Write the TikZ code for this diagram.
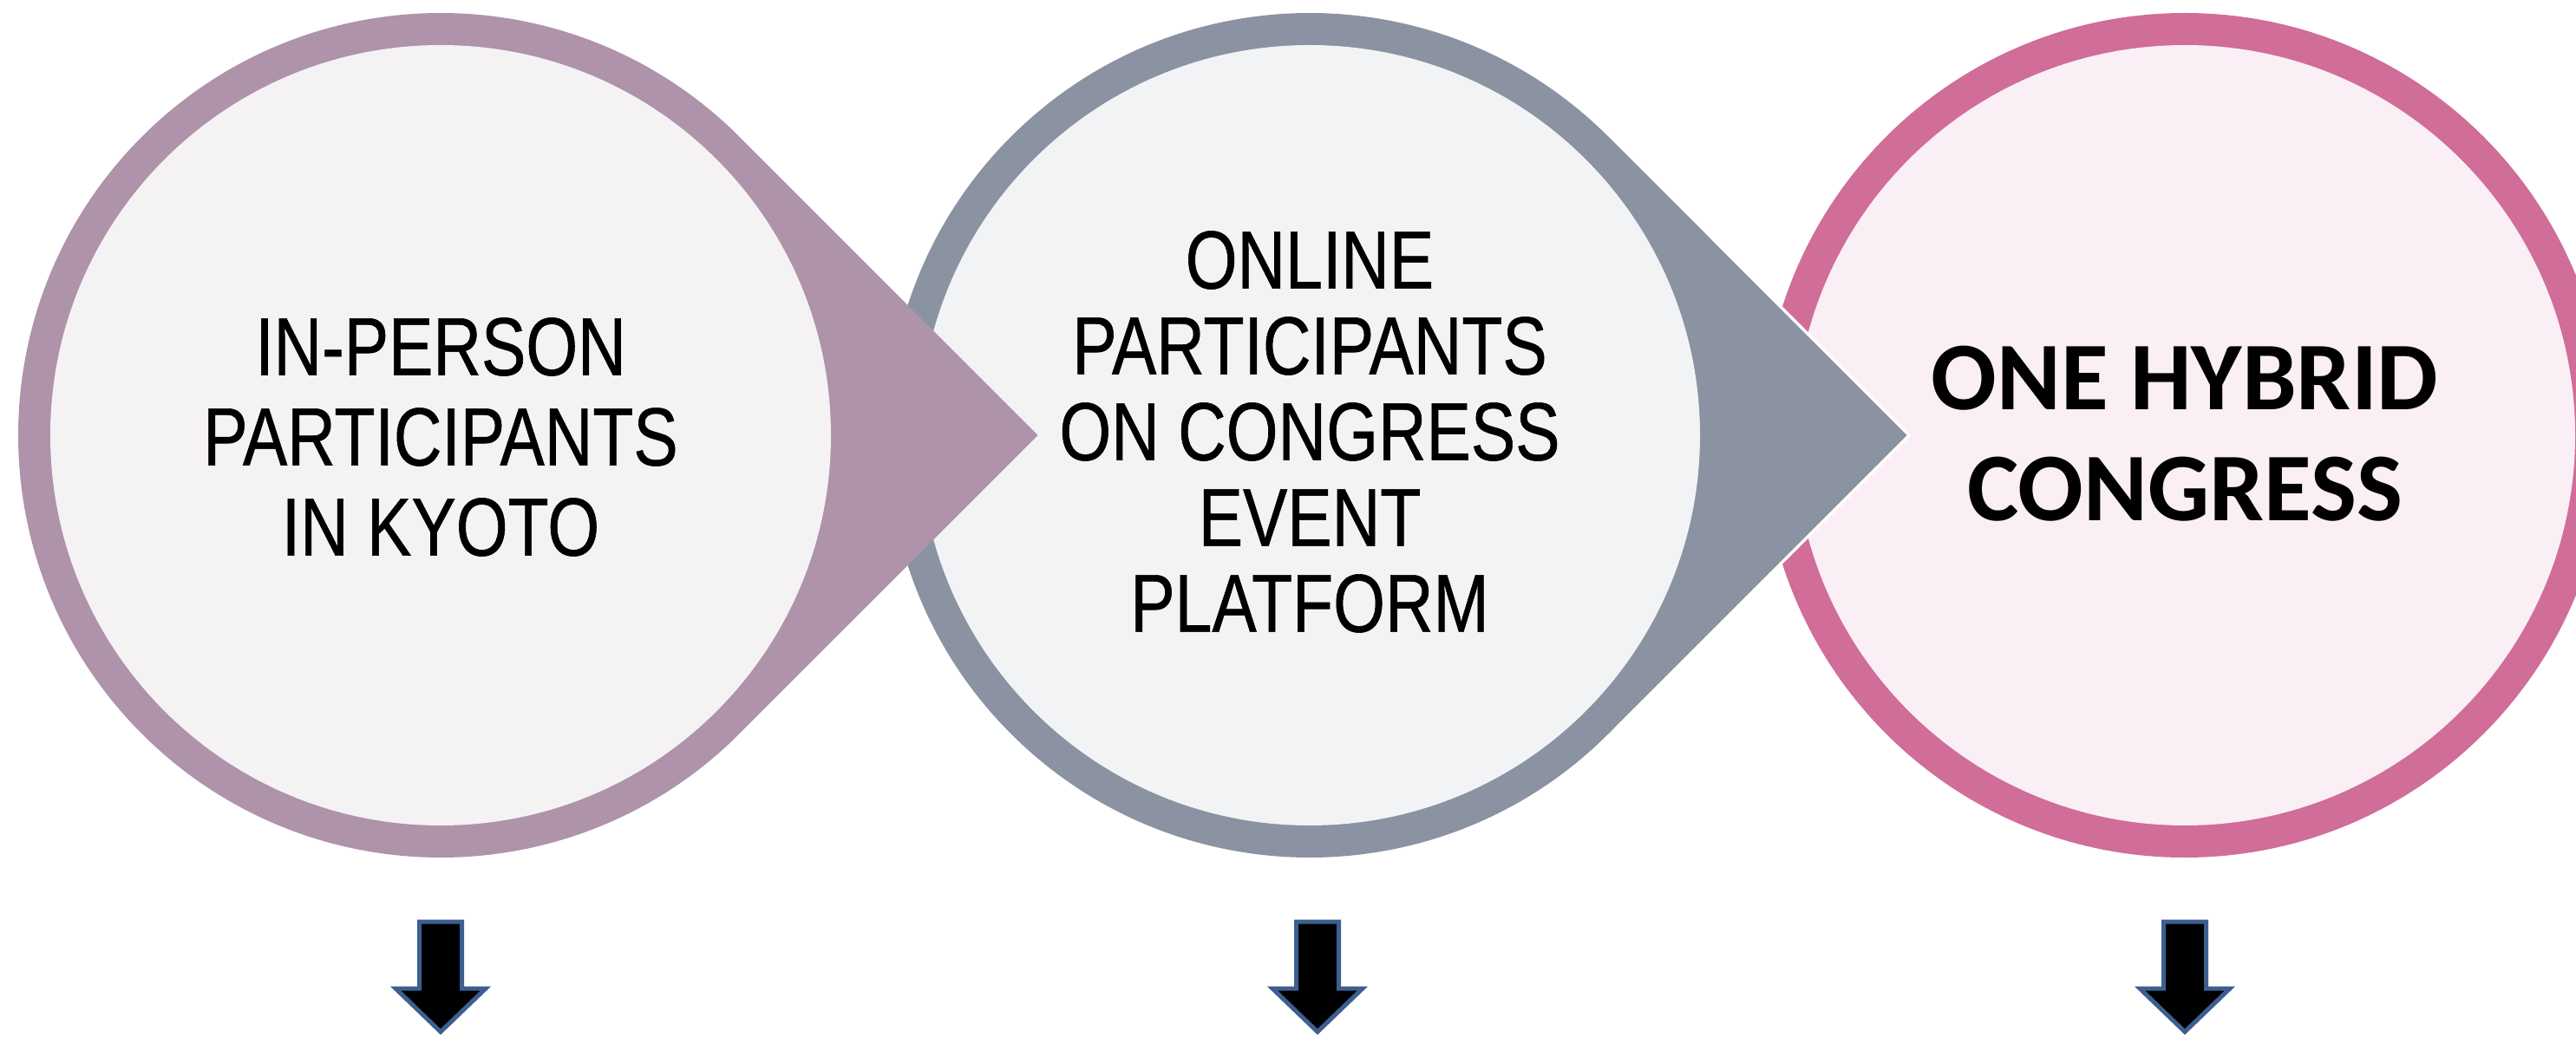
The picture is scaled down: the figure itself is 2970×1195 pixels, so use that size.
\documentclass[tikz,border=0pt]{standalone}
\usepackage{fontspec}
\usetikzlibrary{calc}
\newfontfamily\narrowfont[FakeStretch=0.81, FakeBold=0.6]{Liberation Sans}
\newfontfamily\hybridfont{Carlito}
\definecolor{purring}{HTML}{AE93AB}
\definecolor{purin}{HTML}{F5F2F4}
\definecolor{grayring}{HTML}{8B92A1}
\definecolor{grayin}{HTML}{F2F3F5}
\definecolor{pinkring}{HTML}{D06D98}
\definecolor{pinkin}{HTML}{FAEFF5}
\definecolor{arrowedge}{HTML}{3C5F8F}
\tikzset{
  narrowtext/.style={align=center, inner sep=0pt, font=\narrowfont\fontsize{95}{104}\selectfont},
  boldtext/.style={align=center, inner sep=0pt, font=\hybridfont\bfseries\fontsize{112}{128}\selectfont},
  downarrow/.pic={\draw[draw=arrowedge, fill=black, line width=5, line join=miter]
     (-24.5,132) -- (24.5,132) -- (24.5,55) -- (52,55) -- (0,5) -- (-52,55) -- (-24.5,55) -- cycle;}
}
\begin{document}
\begin{tikzpicture}[x=1pt,y=1pt]
\useasboundingbox (0,0) rectangle (2970,1195);
\clip (0,0) rectangle (2970,1195);
\coordinate (c1) at (508,693);
\coordinate (c2) at (1510,693);
\coordinate (c3) at (2519,693);
% third circle
\fill[pinkring] (c3) circle[radius=487];
\fill[pinkin] (c3) circle[radius=450];
% second teardrop
\coordinate (tip2) at ($(c2)+(688.7,0)$);
\draw[white, line width=7, line join=miter] ($(c2)+(45:487)$) -- (tip2) -- ($(c2)+(-45:487)$);
\fill[grayring] ($(c2)+(45:487)$) -- (tip2) -- ($(c2)+(-45:487)$)
   arc[start angle=-45, end angle=-315, radius=487] -- cycle;
\fill[grayin] (c2) circle[radius=450];
% first teardrop
\coordinate (tip1) at ($(c1)+(688.7,0)$);
\fill[purring] ($(c1)+(45:487)$) -- (tip1) -- ($(c1)+(-45:487)$)
   arc[start angle=-45, end angle=-315, radius=487] -- cycle;
\fill[purin] (c1) circle[radius=450];
% texts
\node[narrowtext] (t1) at ($(c1)+(0,-2)$) {IN-PERSON\\PARTICIPANTS\\IN KYOTO};
\node[narrowtext, font=\narrowfont\fontsize{95}{99}\selectfont] (t2) at ($(c2)+(0,4)$) {ONLINE\\PARTICIPANTS\\ON CONGRESS\\EVENT\\PLATFORM};
\node[boldtext] (t3) at ($(c3)+(0,2)$) {ONE HYBRID\\CONGRESS};
% down arrows
\pic (a1) at (508,0) {downarrow};
\pic (a2) at (1519,0) {downarrow};
\pic (a3) at (2519,0) {downarrow};
\end{tikzpicture}
\end{document}
